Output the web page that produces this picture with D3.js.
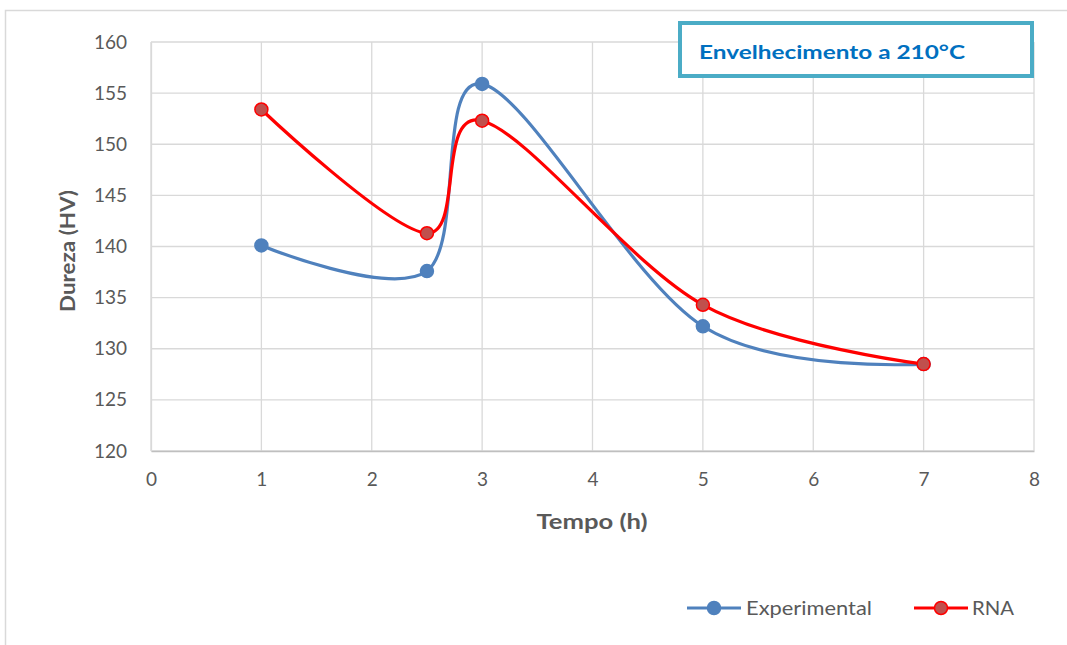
<!DOCTYPE html>
<html>
<head>
<meta charset="utf-8">
<script src="https://cdn.jsdelivr.net/npm/d3@7"></script>
<style>
  html, body { margin: 0; padding: 0; background: #fff; }
  svg { display: block; }
</style>
</head>
<body>
<script>
// Hardness vs. ageing time at 210 °C
const tempos = [1, 2.5, 3, 5, 7];
const experimental = [140.1, 137.6, 155.9, 132.2, 128.5];
const rna = [153.4, 141.3, 152.3, 134.3, 128.5];
const xTicks = [0, 1, 2, 3, 4, 5, 6, 7, 8];
const yTicks = [120, 125, 130, 135, 140, 145, 150, 155, 160];
const seriesNames = ["Experimental", "RNA"];

const W = 1067, H = 645;
const font = "Lato, 'Open Sans', 'Liberation Sans', sans-serif";
const svg = d3.select("body").append("svg").attr("width", W).attr("height", H);

// outer chart frame
svg.append("rect").attr("x", 5.5).attr("y", 10.5).attr("width", 1100).attr("height", 700)
  .attr("fill", "none").attr("stroke", "#d9d9d9").attr("stroke-width", 1.5);

const x = d3.scaleLinear().domain([0, 8]).range([151, 1034]);
const y = d3.scaleLinear().domain([120, 160]).range([451, 42]);

// gridlines
const grid = svg.append("g");
grid.selectAll("line.h").data(yTicks).join("line")
  .attr("x1", x(0)).attr("x2", x(8))
  .attr("y1", d => y(d)).attr("y2", d => y(d))
  .attr("stroke", "#d9d9d9").attr("stroke-width", 1.3);
grid.selectAll("line.v").data(xTicks).join("line")
  .attr("y1", y(120)).attr("y2", y(160))
  .attr("x1", d => x(d)).attr("x2", d => x(d))
  .attr("stroke", "#d9d9d9").attr("stroke-width", 1.3);

// axes
const xAxis = svg.append("g").attr("transform", `translate(0,${y(120)})`)
  .call(d3.axisBottom(x).tickValues(xTicks).tickSize(0).tickPadding(22).tickFormat(d3.format("d")));
xAxis.select(".domain").attr("stroke", "#bfbfbf").attr("stroke-width", 1.3);
xAxis.selectAll("text").attr("font-family", font).attr("font-size", 19).attr("fill", "#595959");

const yAxis = svg.append("g").attr("transform", `translate(${x(0)},0)`)
  .call(d3.axisLeft(y).tickValues(yTicks).tickSize(0).tickPadding(24).tickFormat(d3.format("d")));
yAxis.select(".domain").attr("stroke", "#d9d9d9").attr("stroke-width", 1.3);
yAxis.selectAll("text").attr("font-family", font).attr("font-size", 19).attr("fill", "#595959");

// axis titles
svg.append("text").attr("x", 592).attr("y", 529).attr("text-anchor", "middle")
  .attr("font-family", font).attr("font-weight", "bold").attr("font-size", 20).attr("fill", "#595959")
  .attr("textLength", 111).attr("lengthAdjust", "spacingAndGlyphs")
  .text("Tempo (h)");
svg.append("text").attr("transform", "translate(75,251) rotate(-90)").attr("text-anchor", "middle")
  .attr("font-family", font).attr("font-weight", "bold").attr("font-size", 20).attr("fill", "#595959")
  .attr("textLength", 122).attr("lengthAdjust", "spacingAndGlyphs")
  .text("Dureza (HV)");

// series
const series = [
  { name: seriesNames[0], values: experimental, line: "#4f81bd", fill: "#4f81bd", stroke: "#4f81bd", tl: 126 },
  { name: seriesNames[1], values: rna, line: "#ff0000", fill: "#c0504d", stroke: "#ff0000", tl: 42 }
];
const line = d3.line().x(d => x(d[0])).y(d => y(d[1])).curve(d3.curveCardinal.tension(0));

series.forEach(s => {
  const pts = tempos.map((t, i) => [t, s.values[i]]);
  svg.append("path").datum(pts).attr("d", line)
    .attr("fill", "none").attr("stroke", s.line).attr("stroke-width", 3.2);
  svg.append("g").selectAll("circle").data(pts).join("circle")
    .attr("cx", d => x(d[0])).attr("cy", d => y(d[1])).attr("r", 6.5)
    .attr("fill", s.fill).attr("stroke", s.stroke).attr("stroke-width", 1.5);
});

// title box
svg.append("rect").attr("x", 680).attr("y", 23).attr("width", 352).attr("height", 53)
  .attr("fill", "#fff").attr("stroke", "#4bacc6").attr("stroke-width", 4);
svg.append("text").attr("x", 699).attr("y", 59)
  .attr("font-family", font).attr("font-weight", "bold").attr("font-size", 19).attr("fill", "#0070c0")
  .attr("textLength", 266).attr("lengthAdjust", "spacingAndGlyphs")
  .text("Envelhecimento a 210°C");

// legend
const legend = svg.append("g");
const legendPos = [{ x0: 687, tx: 746 }, { x0: 914, tx: 972 }];
series.forEach((s, i) => {
  const p = legendPos[i];
  legend.append("line").attr("x1", p.x0).attr("x2", p.x0 + 54).attr("y1", 608).attr("y2", 608)
    .attr("stroke", s.line).attr("stroke-width", 3.2);
  legend.append("circle").attr("cx", p.x0 + 27).attr("cy", 608).attr("r", 6.5)
    .attr("fill", s.fill).attr("stroke", s.stroke).attr("stroke-width", 1.5);
  legend.append("text").attr("x", p.tx).attr("y", 615)
    .attr("font-family", font).attr("font-size", 19).attr("fill", "#595959")
    .attr("textLength", s.tl).attr("lengthAdjust", "spacingAndGlyphs")
    .text(s.name);
});
</script>
</body>
</html>
